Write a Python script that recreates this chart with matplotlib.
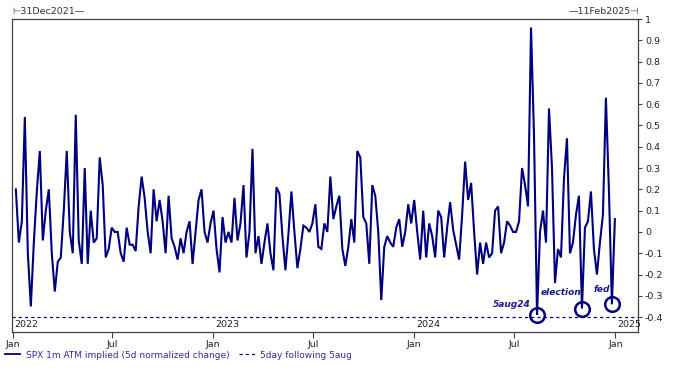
import pandas as pd
import matplotlib
matplotlib.use("Agg")
import matplotlib.pyplot as plt
import matplotlib.dates as mdates
from matplotlib.lines import Line2D
from matplotlib.ticker import MultipleLocator, FuncFormatter

# SPX 1m ATM implied vol, 5d normalized change (~5 day steps)
spx_chg = [
    0.20, -0.05, 0.05, 0.54, -0.10, -0.35, -0.05, 0.19, 0.38, -0.04, 0.10,
    0.20, -0.10, -0.28, -0.14, -0.12, 0.10, 0.38, 0.00, -0.10, 0.55, -0.04,
    -0.15, 0.30, -0.15, 0.10, -0.05, -0.03, 0.35, 0.22, -0.12, -0.08, 0.02,
    0.00, 0.00, -0.10, -0.14, 0.02, -0.06, -0.06, -0.09, 0.12, 0.26, 0.16,
    0.00, -0.10, 0.20, 0.05, 0.15, 0.05, -0.10, 0.17, -0.03, -0.07, -0.13,
    -0.03, -0.10, 0.00, 0.05, -0.15, 0.00, 0.15, 0.20, 0.00, -0.05, 0.04, 0.10,
    -0.08, -0.19, 0.07, -0.05, 0.00, -0.05, 0.16, -0.04, 0.04, 0.22, -0.12,
    0.00, 0.39, -0.10, -0.02, -0.15, -0.05, 0.04, -0.10, -0.18, 0.21, 0.18,
    -0.02, -0.18, -0.01, 0.19, 0.00, -0.17, -0.08, 0.03, 0.02, 0.00, 0.04,
    0.13, -0.07, -0.08, 0.04, 0.00, 0.26, 0.06, 0.12, 0.17, -0.08, -0.16,
    -0.07, 0.06, -0.05, 0.38, 0.35, 0.07, 0.04, -0.15, 0.22, 0.17, 0.00,
    -0.32, -0.07, -0.02, -0.05, -0.07, 0.02, 0.06, -0.07, 0.00, 0.13, 0.04,
    0.15, 0.00, -0.13, 0.10, -0.12, 0.04, -0.02, -0.12, 0.10, 0.07, -0.12,
    0.02, 0.14, 0.01, -0.06, -0.13, 0.08, 0.33, 0.15, 0.23, 0.00, -0.20,
    -0.05, -0.15, -0.05, -0.12, -0.10, 0.10, 0.12, -0.10, -0.05, 0.05, 0.03, 0.00,
    0.00, 0.05, 0.30, 0.22, 0.12, 0.96, 0.45, -0.39, 0.00, 0.10, -0.05,
    0.58, 0.30, -0.24, -0.08, -0.12, 0.25, 0.44, -0.10, -0.05, 0.08, 0.17,
    -0.36, 0.02, 0.05, 0.19, -0.08, -0.20, -0.05, 0.08, 0.63, 0.20, -0.34, 0.06,
]
first_day, last_day = "2022-01-07", "2024-12-31"
view_start, view_end = "2021-12-31", "2025-02-11"
shock_level = -0.4

event_names = ["5aug24", "election", "fed"]
event_days = ["2024-08-05", "2024-11-05", "2024-12-18"]
label_offsets = [(-6, 10), (-1, 16), (-2, 15)]  # pixels from circle
year_marks = ["2022", "2023", "2024", "2025"]

navy = "#00007f"
legend_blue = "#2d2d9e"
frame = "#404040"

plt.rcParams["font.family"] = "DejaVu Sans"
plt.rcParams["font.size"] = 6.5
plt.rcParams["axes.unicode_minus"] = False

dates = pd.date_range(first_day, last_day, periods=len(spx_chg))
series = pd.Series(spx_chg, index=dates)

fig = plt.figure(figsize=(6.75, 3.7), dpi=100)
ax = fig.add_axes([12 / 675, 1 - 332 / 370, 626 / 675, 313 / 370])

ax.plot(series.index, series.values, color=navy, lw=1.5, solid_joinstyle="miter")
ax.axhline(shock_level, color=navy, lw=0.9, ls=(0, (2.5, 2.5)))

# circles on the troughs that follow each event
for name, day, off in zip(event_names, event_days, label_offsets):
    d = pd.Timestamp(day)
    win = series[d - pd.Timedelta(days=10): d + pd.Timedelta(days=14)]
    t = win.idxmin()
    ax.plot([t], [win.min()], marker="o", ms=10.5, mfc="none", mec=navy, mew=1.8,
            clip_on=False)
    ax.annotate(name, (t, win.min()), xytext=off, textcoords="offset pixels",
                ha="right", va="center", fontsize=6.5, style="italic",
                weight="bold", color="#1a1a8c")

ax.set_xlim(pd.Timestamp(view_start), pd.Timestamp(view_end))
ax.set_ylim(-0.47, 1.0)

ax.yaxis.tick_right()
ax.yaxis.set_major_locator(MultipleLocator(0.1))
ax.yaxis.set_major_formatter(FuncFormatter(lambda v, p: f"{round(v, 1):g}"))
ax.xaxis.set_major_locator(mdates.MonthLocator(bymonth=[1, 7]))
ax.xaxis.set_major_formatter(mdates.DateFormatter("%b"))
ax.tick_params(axis="both", direction="out", colors=frame, labelcolor="#222222",
               labelsize=6.8, width=0.8)
ax.tick_params(axis="x", length=4, pad=2)
ax.tick_params(axis="y", length=3, pad=2)
for s in ax.spines.values():
    s.set_color(frame)
    s.set_linewidth(0.9)

for yr in year_marks:
    ax.annotate(yr, (pd.Timestamp(f"{yr}-01-01"), -0.437), xytext=(2, 0),
                textcoords="offset pixels", ha="left", va="center",
                fontsize=6.8, color="#222222", annotation_clip=False)

fig.text(12 / 675, 1 - 12 / 370, "\u22a231Dec2021\u2014", ha="left", va="center",
         fontsize=6.8, color="#333333")
fig.text(639 / 675, 1 - 12 / 370, "\u201411Feb2025\u22a3", ha="right", va="center",
         fontsize=6.8, color="#333333")

handles = [Line2D([], [], color=navy, lw=1.3),
           Line2D([], [], color=navy, lw=0.9, ls=(0, (2.5, 2.5)))]
labels = ["SPX 1m ATM implied (5d normalized change)", "5day following 5aug"]
fig.legend(handles, labels, loc="center left", bbox_to_anchor=(5 / 675, 1 - 355 / 370),
           ncol=2, frameon=False, fontsize=6.5, labelcolor=legend_blue,
           handlelength=1.7, handletextpad=0.6, columnspacing=1.1,
           borderpad=0, borderaxespad=0)

fig.savefig("out.png", dpi=100, facecolor="white")
